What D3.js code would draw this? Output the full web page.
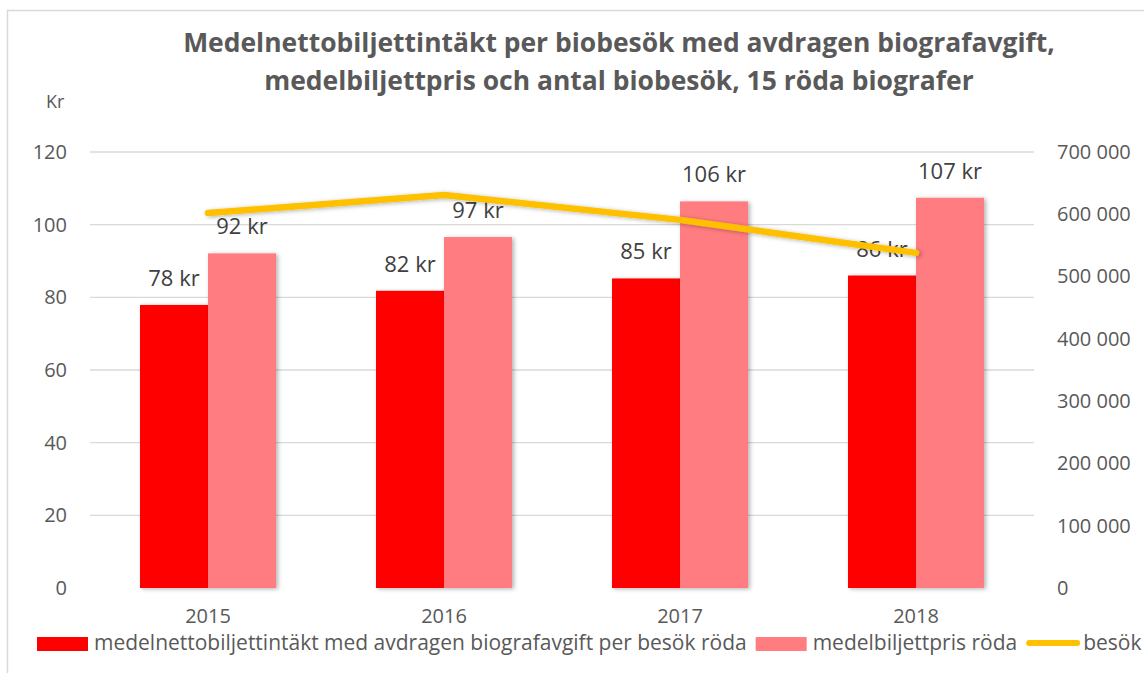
<!DOCTYPE html>
<html>
<head>
<meta charset="utf-8">
<script src="https://cdn.jsdelivr.net/npm/d3@7"></script>
<style>
  body { margin: 0; background: #fff; }
  text { font-family: "Open Sans", sans-serif; fill: #595959; }
</style>
</head>
<body>
<div class="canvas"></div>
<script>
// data
const years = ["2015", "2016", "2017", "2018"];
const netto = [77.9, 81.8, 85.2, 86.0];
const biljettpris = [92.1, 96.6, 106.4, 107.4];
const besok = [602000, 631000, 591000, 538000];
const leftTicks = [0, 20, 40, 60, 80, 100, 120];
const rightTicks = [0, 100000, 200000, 300000, 400000, 500000, 600000, 700000];
const seriesNames = [
  "medelnettobiljettintäkt med avdragen biografavgift per besök röda",
  "medelbiljettpris röda",
  "besök"
];
const titleLines = [
  "Medelnettobiljettintäkt per biobesök med avdragen biografavgift,",
  "medelbiljettpris och antal biobesök, 15 röda biografer"
];

const dims = { width: 1144, height: 673 };
const plot = { left: 90, right: 1034, top: 152, bottom: 588 };
const colors = { netto: "#FF0000", pris: "#FF7C80", besok: "#FFC000" };

const svg = d3
  .select(".canvas")
  .append("svg")
  .attr("width", dims.width)
  .attr("height", dims.height);

// shadow filter
const defs = svg.append("defs");
defs
  .append("filter")
  .attr("id", "shadow")
  .attr("x", "-20%").attr("y", "-20%").attr("width", "140%").attr("height", "140%")
  .append("feDropShadow")
  .attr("dx", 2).attr("dy", 1).attr("stdDeviation", 2)
  .attr("flood-color", "#000").attr("flood-opacity", 0.3);

// chart border
svg
  .append("rect")
  .attr("x", 7.5).attr("y", 10.5)
  .attr("width", dims.width + 20).attr("height", dims.height + 20)
  .attr("fill", "none").attr("stroke", "#d9d9d9").attr("stroke-width", 1.5);

// scales
const x = d3
  .scaleBand()
  .domain(years)
  .range([plot.left, plot.right])
  .paddingInner(0.4237)
  .paddingOuter(0.4237 / 2);

const xInner = d3
  .scaleBand()
  .domain(["netto", "pris"])
  .range([0, x.bandwidth()]);

const y = d3.scaleLinear().domain([0, 120]).range([plot.bottom, plot.top]);
const y2 = d3.scaleLinear().domain([0, 700000]).range([plot.bottom, plot.top]);

// gridlines
svg
  .append("g")
  .selectAll("line")
  .data(leftTicks.filter((d) => d > 0))
  .join("line")
  .attr("x1", plot.left).attr("x2", plot.right)
  .attr("y1", (d) => y(d)).attr("y2", (d) => y(d))
  .attr("stroke", "#d9d9d9").attr("stroke-width", 1.3);

// left axis
const leftAxis = svg
  .append("g")
  .attr("transform", `translate(${plot.left - 23},0)`)
  .call(d3.axisLeft(y).tickValues(leftTicks).tickSize(0).tickPadding(0));
leftAxis.select(".domain").remove();
leftAxis.selectAll("text").attr("font-size", 20).attr("font-family", "Open Sans").attr("fill", "#595959");

// right axis
const fmtSpace = (d) => d3.format(",")(d).replace(/,/g, " ");
const rightAxis = svg
  .append("g")
  .attr("transform", `translate(${plot.right + 23},0)`)
  .call(d3.axisRight(y2).tickValues(rightTicks).tickFormat(fmtSpace).tickSize(0).tickPadding(0));
rightAxis.select(".domain").remove();
rightAxis.selectAll("text").attr("font-size", 20).attr("font-family", "Open Sans").attr("fill", "#595959");

// "Kr" unit label
svg
  .append("text")
  .attr("x", 46).attr("y", 108)
  .attr("font-size", 18)
  .text("Kr");

// bars
const rows = years.map((yr, i) => ({ year: yr, netto: netto[i], pris: biljettpris[i] }));
const groups = svg
  .append("g")
  .selectAll("g")
  .data(rows)
  .join("g")
  .attr("transform", (d) => `translate(${x(d.year)},0)`);

const barData = (d) => [
  { key: "netto", value: d.netto },
  { key: "pris", value: d.pris }
];

groups
  .selectAll("rect")
  .data(barData)
  .join("rect")
  .attr("x", (d) => xInner(d.key))
  .attr("width", xInner.bandwidth())
  .attr("y", (d) => y(d.value))
  .attr("height", (d) => y(0) - y(d.value))
  .attr("fill", (d) => colors[d.key])
  .attr("filter", "url(#shadow)");

// baseline
svg
  .append("line")
  .attr("x1", plot.left).attr("x2", plot.right)
  .attr("y1", y(0)).attr("y2", y(0))
  .attr("stroke", "#d0d0d0").attr("stroke-width", 3)
  .attr("filter", "url(#shadow)");

// line series
const line = d3
  .line()
  .x((d, i) => x(years[i]) + x.bandwidth() / 2)
  .y((d) => y2(d));

svg
  .append("path")
  .datum(besok)
  .attr("d", line)
  .attr("fill", "none")
  .attr("stroke", colors.besok)
  .attr("stroke-width", 6.5)
  .attr("stroke-linecap", "round")
  .attr("stroke-linejoin", "round")
  .attr("filter", "url(#shadow)");

// data labels
groups
  .selectAll("text.label")
  .data(barData)
  .join("text")
  .attr("class", "label")
  .attr("x", (d) => xInner(d.key) + xInner.bandwidth() / 2)
  .attr("y", (d) => y(d.value) - 19)
  .attr("text-anchor", "middle")
  .attr("font-size", 22)
  .style("fill", "#404040")
  .text((d) => `${Math.round(d.value)} kr`);

// x axis labels
svg
  .append("g")
  .selectAll("text")
  .data(years)
  .join("text")
  .attr("x", (d) => x(d) + x.bandwidth() / 2)
  .attr("y", 623)
  .attr("text-anchor", "middle")
  .attr("font-size", 20)
  .text((d) => d);

// title
const fitWidth = (sel, target) => {
  const node = sel.node();
  const size = parseFloat(sel.attr("font-size"));
  const w = node.getComputedTextLength();
  sel.attr("font-size", (size * target) / w);
};

const title = svg
  .append("g")
  .selectAll("text")
  .data(titleLines)
  .join("text")
  .attr("x", 619)
  .attr("y", (d, i) => 52 + i * 38)
  .attr("text-anchor", "middle")
  .attr("font-size", 25)
  .attr("font-weight", "bold")
  .text((d) => d);
const t0 = d3.select(title.nodes()[0]);
fitWidth(t0, 872);
title.attr("font-size", t0.attr("font-size"));

// legend
const legend = svg.append("g");
const legendY = 650;
const swatchW = 51;
let lx = 37;
seriesNames.forEach((name, i) => {
  if (i < 2) {
    legend
      .append("rect")
      .attr("x", lx).attr("y", legendY - 13)
      .attr("width", swatchW).attr("height", 14)
      .attr("fill", i === 0 ? colors.netto : colors.pris);
  } else {
    legend
      .append("line")
      .attr("x1", lx + 3).attr("x2", lx + swatchW)
      .attr("y1", legendY - 7).attr("y2", legendY - 7)
      .attr("stroke", colors.besok)
      .attr("stroke-width", 6)
      .attr("stroke-linecap", "round");
  }
  const t = legend
    .append("text")
    .attr("x", lx + swatchW + 6)
    .attr("y", legendY)
    .attr("font-size", 19)
    .text(name);
  if (i === 0) fitWidth(t, 653);
  else t.attr("font-size", legend.select("text").attr("font-size"));
  lx += swatchW + 6 + t.node().getComputedTextLength() + 9;
});
</script>
</body>
</html>
